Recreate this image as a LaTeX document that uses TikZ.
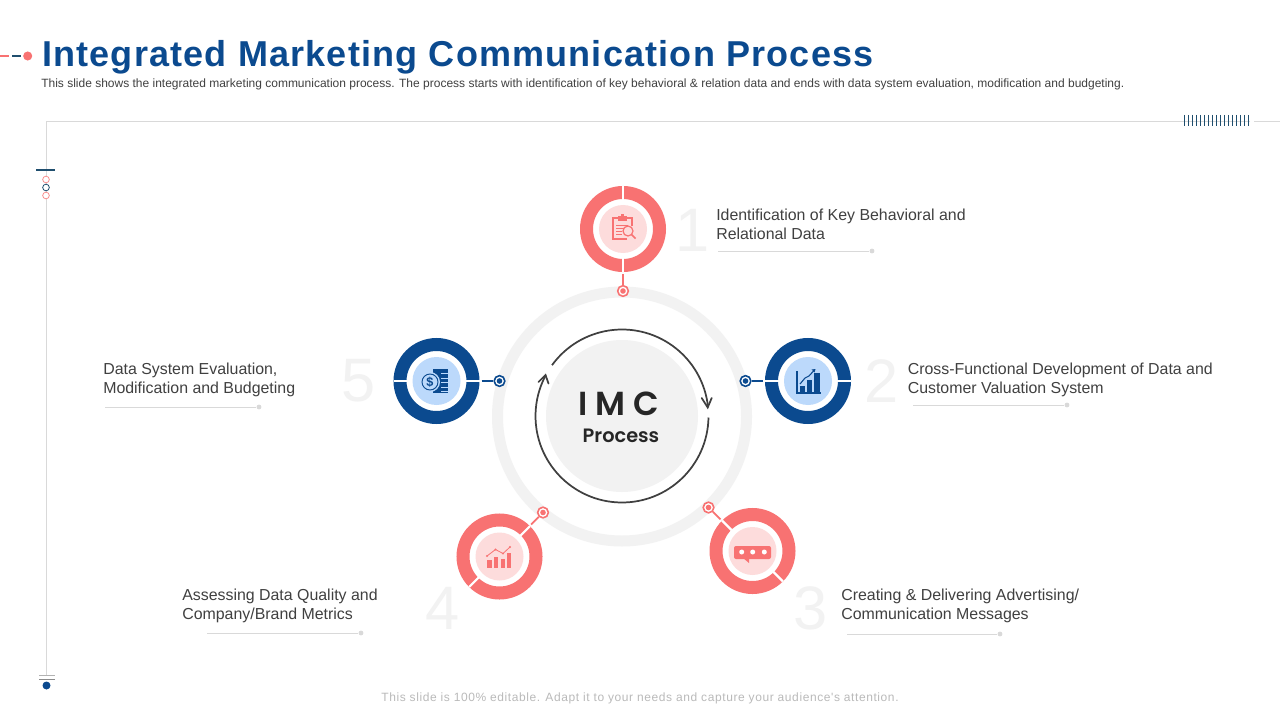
\documentclass[tikz,border=0pt]{standalone}
\usepackage{fontspec}
\setmainfont{Liberation Sans}
\newfontfamily\titlef[LetterSpace=3.3]{Liberation Sans}
\newfontfamily\footf[LetterSpace=4.9]{Liberation Sans}
\newfontfamily\popf{Poppins SemiBold}
\usetikzlibrary{calc}
\definecolor{navy}{HTML}{0B4A8F}
\definecolor{coral}{HTML}{F87272}
\definecolor{palepink}{HTML}{FDDCDC}
\definecolor{paleblue}{HTML}{BCD9FB}
\definecolor{softgrey}{HTML}{F2F2F2}
\definecolor{txt}{HTML}{404040}
\definecolor{rule}{HTML}{D9D9D9}
\definecolor{tick}{HTML}{1F4E6E}
\tikzset{
  ringn/.style={circle,draw=#1,line width=9.75pt,minimum size=54.75pt,inner sep=0pt},
  disc/.style={circle,fill=#1,minimum size=36pt,inner sep=0pt},
  gapline/.style={draw=white,line width=1.6pt},
  dotn/.style={circle,draw=#1,fill=white,line width=1.2pt,minimum size=8pt,inner sep=0pt},
  conn/.style={draw=#1,line width=1.3pt,shorten <=1.5pt},
  label/.style={anchor=west,align=left,text=txt,font=\fontsize{11.93}{14.25}\selectfont,inner sep=0pt},
  bignum/.style={text=softgrey,font=\fontsize{46}{46}\selectfont,inner sep=0pt},
  uline/.style={draw=rule,line width=0.75pt},
  uend/.style={circle,fill=rule,minimum size=3.6pt,inner sep=0pt},
}
\begin{document}
\begin{tikzpicture}[x=0.75pt,y=-0.75pt]
\useasboundingbox[fill=white] (0,0) rectangle (1280,720);

% title
\node[anchor=base west,inner sep=0pt,text=navy,font=\fontsize{27}{30}\selectfont\titlef\bfseries] (title) at (42,67) {Integrated Marketing Communication Process};
\node[anchor=west,inner sep=0pt,text=txt,font=\fontsize{9}{11}\selectfont] (sub) at (41,84.5) {This slide shows the integrated marketing communication process. The process starts with identification of key behavioral \& relation data and ends with data system evaluation, modification and budgeting.};
\node[inner sep=0pt,text=black!27,font=\fontsize{9}{11}\selectfont\footf] (foot) at (640,698.5) {This slide is 100\% editable. Adapt it to your needs and capture your audience's attention.};

% top-left mark
\coordinate (m0) at (0,56); \coordinate (m1) at (9,56); \coordinate (m2) at (12,56); \coordinate (m3) at (21,56);
\draw[coral,line width=0.9pt] (m0) -- (m1);
\draw[tick,line width=0.9pt] (m2) -- (m3);
\node[circle,fill=coral,minimum size=6.8pt,inner sep=0pt] (mdot) at (27.7,56) {};

% frame
\coordinate (fc) at (46,122); \coordinate (fr) at (1280,122); \coordinate (fb) at (46,675);
\draw[rule,line width=0.75pt] (fb) -- (fc) -- (fr);
\fill[white] (1250,112) rectangle (1254,130);
\foreach \i in {0,...,16} \draw[tick,line width=0.75pt] ({1184+4.06*\i},115) -- ({1184+4.06*\i},126);
\coordinate (lt1) at (36,170); \coordinate (lt2) at (55,170);
\draw[tick,line width=1.1pt] (lt1) -- (lt2);
\node[circle,draw=coral!80!white,fill=white,line width=0.6pt,minimum size=5pt,inner sep=0pt] (c1) at (46,179.5) {};
\node[circle,draw=tick,fill=white,line width=0.6pt,minimum size=5pt,inner sep=0pt] (c2) at (46,187.5) {};
\node[circle,draw=coral!80!white,fill=white,line width=0.6pt,minimum size=5pt,inner sep=0pt] (c3) at (46,195.5) {};
\coordinate (b1) at (39,675); \coordinate (b2) at (55,675); \coordinate (b3) at (39,679.5); \coordinate (b4) at (55,679.5);
\draw[black!30,line width=0.6pt] (b1) -- (b2);
\draw[black!45,line width=0.6pt] (b3) -- (b4);
\node[circle,fill=navy,minimum size=6pt,inner sep=0pt] (bd) at (46.5,685.5) {};

% central
\node[circle,draw=softgrey,line width=8.25pt,minimum size=186.75pt,inner sep=0pt] (bigring) at (622,416.5) {};
\node[circle,fill=softgrey,minimum size=114pt,inner sep=0pt] (core) at (622,416) {};
\draw[txt,line width=1.3pt] (622,416) ++(-144:86.5) arc[start angle=-144,end angle=-6,radius=86.5];
\draw[txt,line width=1.3pt] (622,416) ++(1:86.5) arc[start angle=1,end angle=208,radius=86.5];
% arrow heads
\coordinate (ah1) at (707.7,407.5); \coordinate (ah2) at (545.5,375);
\draw[txt,line width=1.3pt,line cap=round,line join=miter] (701.7,398) -- (ah1) -- (711.7,398);
\draw[txt,line width=1.3pt,line cap=round,line join=miter] (538.5,382) -- (ah2) -- (548.5,383.5);
\node[inner sep=0pt,text=black!85,font=\fontsize{25}{25}\selectfont\popf] (imc) at (619,404) {I M C};
\node[inner sep=0pt,text=black!85,font=\fontsize{14.5}{15}\selectfont\popf] (proc) at (621,436) {Process};

% rings
\node[ringn=coral] (r1) at (623,229) {};
\node[ringn=navy] (r2) at (808,381) {};
\node[ringn=coral] (r3) at (752.5,551) {};
\node[ringn=coral] (r4) at (499.5,556.5) {};
\node[ringn=navy] (r5) at (436.5,381) {};
\node[disc=palepink] (d1) at (623,229) {};
\node[disc=paleblue] (d2) at (808,381) {};
\node[disc=palepink] (d3) at (752.5,551) {};
\node[disc=palepink] (d4) at (499.5,556.5) {};
\node[disc=paleblue] (d5) at (436.5,381) {};

% ring gaps
\draw[gapline] (r1.north) -- ($(r1.north)!0.32!(r1.center)$);
\draw[gapline] (r1.south) -- ($(r1.south)!0.32!(r1.center)$);
\draw[gapline] (r2.west) -- ($(r2.west)!0.32!(r2.center)$);
\draw[gapline] (r2.east) -- ($(r2.east)!0.32!(r2.center)$);
\draw[gapline] (r5.west) -- ($(r5.west)!0.32!(r5.center)$);
\draw[gapline] (r5.east) -- ($(r5.east)!0.32!(r5.center)$);
\draw[gapline] (r3.135) -- ($(r3.135)!0.32!(r3.center)$);
\draw[gapline] (r3.-45) -- ($(r3.-45)!0.32!(r3.center)$);
\draw[gapline] (r4.45) -- ($(r4.45)!0.32!(r4.center)$);
\draw[gapline] (r4.225) -- ($(r4.225)!0.32!(r4.center)$);

% dots and connectors
\node[dotn=coral] (p1) at (623,291) {};
\node[dotn=navy] (p2) at (745.5,381) {};
\node[dotn=coral] (p3) at (708.5,507.5) {};
\node[dotn=coral] (p4) at (543,512.5) {};
\node[dotn=navy] (p5) at (499.5,381) {};
\draw[conn=coral] (r1) -- (p1);
\draw[conn=navy] (r2) -- (p2);
\draw[conn=coral] (r3) -- (p3);
\draw[conn=coral] (r4) -- (p4);
\draw[conn=navy] (r5) -- (p5);
\fill[coral] (p1.center) circle (2.8);
\fill[navy] (p2.center) circle (2.8);
\fill[coral] (p3.center) circle (2.8);
\fill[coral] (p4.center) circle (2.8);
\fill[navy] (p5.center) circle (2.8);

% icon 1 clipboard
\begin{scope}[coral]
\draw[line width=1pt] (627,239) -- (613,239) -- (613,218) -- (632,218) -- (632,226);
\fill (618,216) rectangle (627,221.5);
\fill (621,214.5) rectangle (624,217);
\draw[line width=0.5pt] (616,225) -- (628,225) (616,228) -- (624,228) (616,231) -- (622,231) (616,234) -- (622,234);
\draw[line width=0.9pt,fill=palepink] (628,231) circle (5);
\draw[line width=1.3pt] (631.5,234.5) -- (635.5,238.5);
\end{scope}

% icon 2 chart
\begin{scope}[navy]
\draw[line width=0.8pt] (797,371) -- (797,393) -- (821,393);
\fill (799.5,386) rectangle (804.5,392);
\fill (806.5,380) rectangle (812,392);
\fill (814,373) rectangle (820,392);
\draw[line width=0.8pt] (800,384) -- (805,378) -- (809,376) -- (814,370.5);
\fill (815.5,369) -- (811.5,369.5) -- (814.5,372.5) -- cycle;
\end{scope}

% icon 3 bubble
\begin{scope}[coral]
\fill[rounded corners=1.5pt] (734,546) rectangle (771,559);
\fill (743,558) -- (749,558) -- (749,563) -- cycle;
\fill[white] (741.7,552) circle (2.5) (752.7,552) circle (2.5) (764.3,552) circle (2.5);
\end{scope}

% icon 4 bars
\begin{scope}[coral]
\fill (487,560) rectangle (491.5,568);
\fill (493.8,556.5) rectangle (498,568);
\fill (500.5,558.5) rectangle (504.5,568);
\fill (507,553) rectangle (511,568);
\draw[line width=0.6pt] (487,556) -- (495.5,549.5) -- (503,553.5) -- (510,547);
\fill (487,556) circle (1.2) (495.5,549.5) circle (1.2) (503,553.5) circle (1.2) (510,547) circle (1.2);
\end{scope}

% icon 5 coins
\begin{scope}[navy]
\fill (433,369) rectangle (447.5,393);
\foreach \y in {373,377.5,382,386.5,391} \fill[paleblue] (441,\y) rectangle (447.6,\y+1);
\fill[paleblue] (430,382) circle (10);
\draw[line width=0.7pt] (430,382) circle (8);
\node[inner sep=0pt,text=navy,font=\fontsize{9.5}{10}\selectfont\bfseries] (dollar) at (430,382) {\$};
\end{scope}

% numbers
\node[bignum] (n1) at (693,230) {1};
\node[bignum] (n2) at (882,381) {2};
\node[bignum] (n3) at (811,608) {3};
\node[bignum] (n4) at (443,608) {4};
\node[bignum] (n5) at (358.5,381) {5};

% labels
\node[label] (t1) at (716,224) {Identification of Key Behavioral and\\Relational Data};
\node[label] (t2) at (907.5,380) {Cross-Functional Development of Data and\\Customer Valuation System};
\node[label] (t3) at (841,606) {Creating \& Delivering Advertising/\\Communication Messages};
\node[label] (t4) at (182,606) {Assessing Data Quality and\\Company/Brand Metrics};
\node[label] (t5) at (103,380) {Data System Evaluation,\\Modification and Budgeting};

% underlines
\coordinate (s1) at (718,251); \node[uend] (e1) at (872,251) {}; \draw[uline] (s1) -- (e1);
\coordinate (s2) at (913,405); \node[uend] (e2) at (1067,405) {}; \draw[uline] (s2) -- (e2);
\coordinate (s3) at (847,634); \node[uend] (e3) at (1000,634) {}; \draw[uline] (s3) -- (e3);
\coordinate (s4) at (207,633); \node[uend] (e4) at (361,633) {}; \draw[uline] (s4) -- (e4);
\coordinate (s5) at (105,407); \node[uend] (e5) at (259,407) {}; \draw[uline] (s5) -- (e5);
\end{tikzpicture}
\end{document}
